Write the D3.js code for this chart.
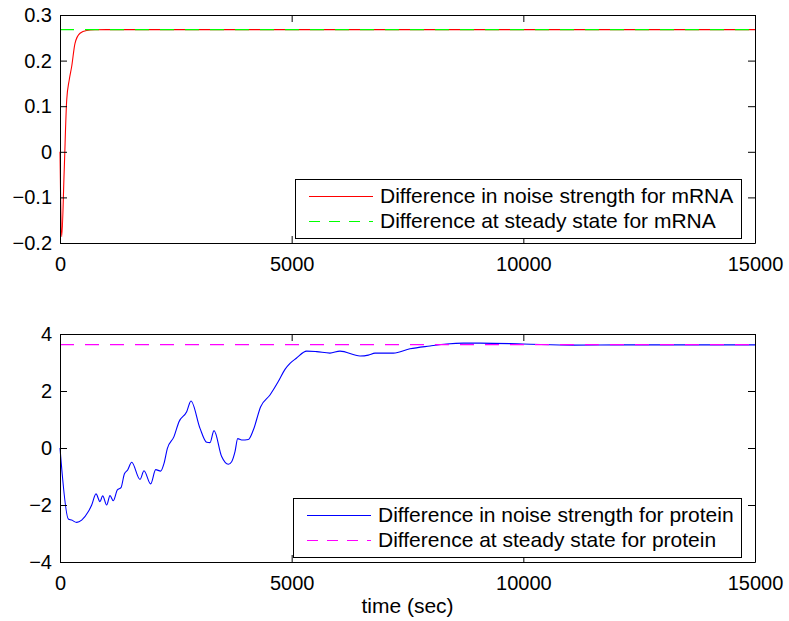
<!DOCTYPE html>
<html>
<head>
<meta charset="utf-8">
<script src="https://cdn.jsdelivr.net/npm/d3@7"></script>
<style>
  body { margin: 0; background: #fff; }
  text { font-family: "Liberation Sans", Arial, sans-serif; fill: #000; }
</style>
</head>
<body>
<div class="svgContainer"></div>
<script>
// mRNA panel
let mrnaT = [0, 14, 37, 90, 145, 200, 252, 324, 432, 576, 755, 1000, 15000];
let mrnaV = [0, -0.105, -0.186, -0.043, 0.114, 0.158, 0.187, 0.238, 0.26, 0.266, 0.2675, 0.268, 0.268];
let mrnaSteady = 0.268;

// protein panel
let protT = [0, 180, 252, 360, 468, 612, 684, 777, 863, 921, 1007, 1079, 1151, 1238, 1317, 1389, 1460, 1547,
  1727, 1813, 1957, 2065, 2173, 2245, 2316, 2460, 2568, 2734, 2827, 3022, 3166, 3237, 3324, 3489, 3633, 3705,
  3777, 3835, 3921, 4065, 4172, 4331, 4532, 4711, 4856, 4964, 5100, 5324, 5540, 5827, 6043, 6475, 6655, 6799,
  7194, 7554, 7986, 8345, 8705, 9065, 9993, 11072, 12150, 15000];
let protV = [0, -2.49, -2.53, -2.61, -2.53, -2.23, -2.0, -1.61, -1.88, -1.68, -2.0, -1.67, -1.85, -1.47, -1.39, -0.91, -0.77, -0.50,
  -1.10, -0.80, -1.26, -0.76, -0.81, -0.54, -0.02, 0.40, 0.92, 1.27, 1.65, 0.69, 0.20, 0.19, 0.61, -0.30, -0.57, -0.48,
  -0.13, 0.33, 0.28, 0.30, 0.63, 1.45, 1.86, 2.33, 2.76, 2.97, 3.15, 3.40, 3.38, 3.33, 3.40, 3.23, 3.26, 3.33,
  3.33, 3.48, 3.58, 3.65, 3.68, 3.68, 3.65, 3.61, 3.62, 3.62];
let protSteady = 3.63;

let xTicks = [0, 5000, 10000, 15000];
let mrnaTicks = [-0.2, -0.1, 0, 0.1, 0.2, 0.3];
let protTicks = [-4, -2, 0, 2, 4];

let w = 789;
let h = 621;
let left = 60;
let right = 755;

const svg = d3.select(".svgContainer")
    .append("svg")
    .attr("width", w)
    .attr("height", h)

const fmt = (d) => String(d).replace("-", "\u2212");

function panel(top, bottom, yDomain, yTicks, ts, vs, steady, lineColor, dashColor, labels, legendBox) {
    let xScale = d3.scaleLinear().domain([0, 15000]).range([left, right]);
    let yScale = d3.scaleLinear().domain(yDomain).range([bottom, top]);
    let g = svg.append("g");

    let pts = ts.map((t, i) => [t, vs[i]]);

    g.append("path")
        .datum(pts)
        .attr("fill", "none")
        .style("stroke", lineColor)
        .style("stroke-width", 1.1)
        .attr("d", d3.line()
            .curve(d3.curveMonotoneX)
            .x((d) => xScale(d[0]))
            .y((d) => yScale(d[1])))

    // steady-state dashes drawn over the curve
    g.append("line")
        .attr("x1", xScale(0)).attr("x2", xScale(15000))
        .attr("y1", yScale(steady)).attr("y2", yScale(steady))
        .style("stroke", dashColor)
        .style("stroke-width", 1.3)
        .style("stroke-dasharray", "14,11")

    // axes with inward ticks on all sides
    g.append("g")
        .attr("transform", `translate(0, ${bottom})`)
        .call(d3.axisBottom(xScale).tickValues(xTicks).tickSizeInner(-7).tickSizeOuter(0).tickPadding(14).tickFormat(fmt))
    g.append("g")
        .attr("transform", `translate(0, ${top})`)
        .call(d3.axisTop(xScale).tickValues(xTicks).tickSizeInner(-7).tickSizeOuter(0).tickFormat(""))
    g.append("g")
        .attr("transform", `translate(${left}, 0)`)
        .call(d3.axisLeft(yScale).tickValues(yTicks).tickSizeInner(-7).tickSizeOuter(0).tickPadding(8).tickFormat(fmt))
    g.append("g")
        .attr("transform", `translate(${right}, 0)`)
        .call(d3.axisRight(yScale).tickValues(yTicks).tickSizeInner(-7).tickSizeOuter(0).tickFormat(""))

    g.selectAll(".tick text").style("font-size", "20px").attr("font-family", null)
    g.selectAll(".domain").attr("stroke", "#000")

    // legend
    let lg = g.append("g");
    lg.append("rect")
        .attr("x", legendBox[0] + 0.5).attr("y", legendBox[1] + 0.5)
        .attr("width", legendBox[2]).attr("height", legendBox[3])
        .style("fill", "#fff").style("stroke", "#000").style("stroke-width", 1)
    let rows = [Math.round(legendBox[1] + legendBox[3] * 0.28), Math.round(legendBox[1] + legendBox[3] * 0.72)];
    lg.append("line")
        .attr("x1", legendBox[0] + 14).attr("x2", legendBox[0] + 78)
        .attr("y1", rows[0] + 0.5).attr("y2", rows[0] + 0.5)
        .style("stroke", lineColor).style("stroke-width", 1)
    lg.append("line")
        .attr("x1", legendBox[0] + 14).attr("x2", legendBox[0] + 78)
        .attr("y1", rows[1] + 0.5).attr("y2", rows[1] + 0.5)
        .style("stroke", dashColor).style("stroke-width", 1.2)
        .style("stroke-dasharray", "11,9")
    labels.forEach((txt, i) => {
        lg.append("text")
            .attr("x", legendBox[0] + 85)
            .attr("y", rows[i])
            .attr("dy", "0.35em")
            .style("font-size", "21px")
            .text(txt)
    })
}

panel(15, 243, [-0.2, 0.3], mrnaTicks, mrnaT, mrnaV, mrnaSteady, "#ff0000", "#00ff00",
    ["Difference in noise strength for mRNA", "Difference at steady state for mRNA"],
    [295, 179, 446, 59])

panel(334, 562, [-4, 4], protTicks, protT, protV, protSteady, "#0000ff", "#ff00ff",
    ["Difference in noise strength for protein", "Difference at steady state for protein"],
    [293, 498, 448, 59])

svg.append("text")
    .attr("x", (left + right) / 2)
    .attr("y", 613)
    .attr("text-anchor", "middle")
    .style("font-size", "21px")
    .text("time (sec)")
</script>
</body>
</html>
